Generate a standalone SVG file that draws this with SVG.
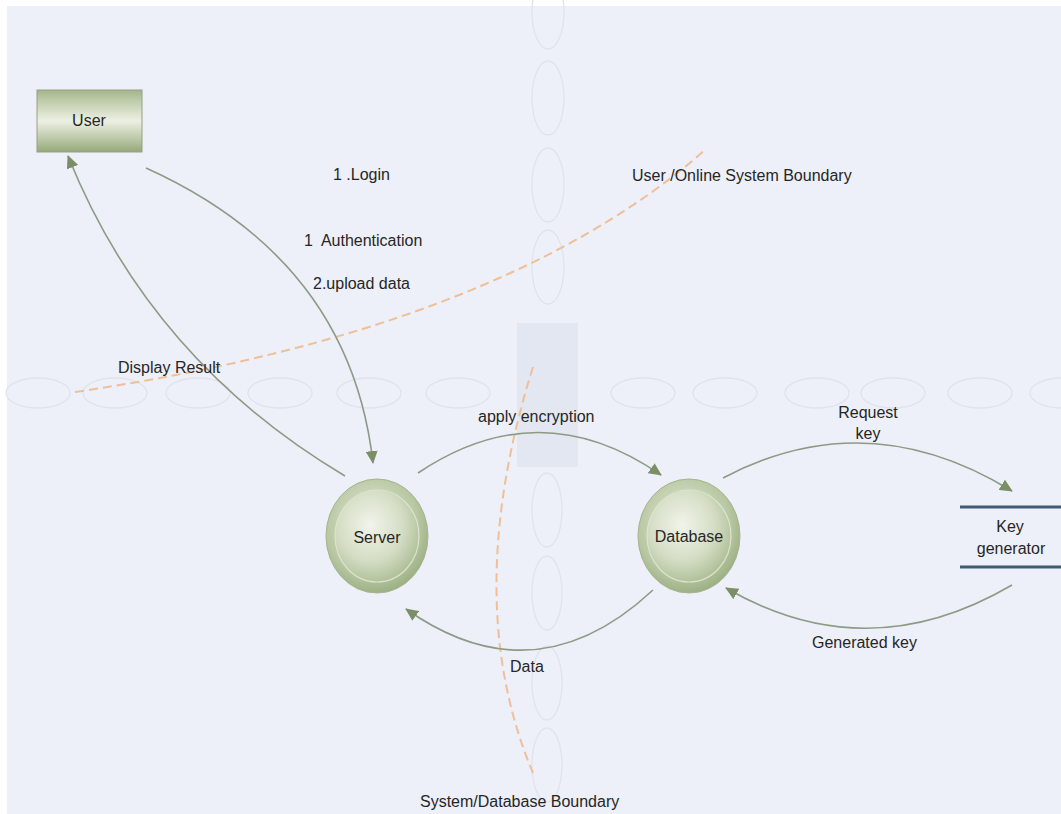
<svg xmlns="http://www.w3.org/2000/svg" width="1061" height="814" viewBox="0 0 1061 814">
  <defs>
    <style>
      .lbl { font-family: "Liberation Sans", Arial, sans-serif; font-size: 16px; fill: #262626; }
      .mid { text-anchor: middle; }
      .guide { fill: none; stroke: #e0e3ec; stroke-width: 1.3; }
      .flow { fill: none; stroke: #8d9a84; stroke-width: 1.6; }
      .boundary { fill: none; stroke: #eebf98; stroke-width: 2; stroke-dasharray: 9 5; }
      .store { stroke: #3f5a75; stroke-width: 3; }
    </style>
    <linearGradient id="entityFill" x1="0" y1="0" x2="0" y2="1">
      <stop offset="0" stop-color="#a3b48a"/>
      <stop offset="0.18" stop-color="#c0ccab"/>
      <stop offset="0.5" stop-color="#ecf0e3"/>
      <stop offset="0.82" stop-color="#b6c3a0"/>
      <stop offset="1" stop-color="#95a87a"/>
    </linearGradient>
    <radialGradient id="processOuter" cx="0.45" cy="0.4" r="0.6">
      <stop offset="0" stop-color="#e6ecda"/>
      <stop offset="0.75" stop-color="#b9c7a3"/>
      <stop offset="1" stop-color="#9db185"/>
    </radialGradient>
    <radialGradient id="processInner" cx="0.42" cy="0.38" r="0.65">
      <stop offset="0" stop-color="#f1f4eb"/>
      <stop offset="0.6" stop-color="#d4ddc4"/>
      <stop offset="1" stop-color="#aebe96"/>
    </radialGradient>
    <marker id="arrow" markerWidth="14" markerHeight="12" refX="12" refY="6" orient="auto" markerUnits="userSpaceOnUse">
      <path d="M0,0 L13,6 L0,12 Z" fill="#7b8e68"/>
    </marker>
  </defs>

  <!-- canvas -->
  <rect x="0" y="0" width="1061" height="814" fill="#ffffff"/>
  <rect x="7" y="6" width="1054" height="808" fill="#edf0f8"/>

  <!-- faint lane guides -->
  <g id="guides">
    <rect x="517" y="323" width="61" height="144" fill="#e3e7f2"/>
    <ellipse class="guide" cx="38" cy="393" rx="32" ry="15"/>
    <ellipse class="guide" cx="115" cy="393" rx="32" ry="15"/>
    <ellipse class="guide" cx="198" cy="393" rx="32" ry="15"/>
    <ellipse class="guide" cx="280" cy="393" rx="32" ry="15"/>
    <ellipse class="guide" cx="369" cy="393" rx="32" ry="15"/>
    <ellipse class="guide" cx="458" cy="393" rx="32" ry="15"/>
    <ellipse class="guide" cx="643" cy="393" rx="32" ry="15"/>
    <ellipse class="guide" cx="725" cy="393" rx="32" ry="15"/>
    <ellipse class="guide" cx="817" cy="393" rx="32" ry="15"/>
    <ellipse class="guide" cx="893" cy="393" rx="32" ry="15"/>
    <ellipse class="guide" cx="980" cy="393" rx="32" ry="15"/>
    <ellipse class="guide" cx="1062" cy="393" rx="32" ry="15"/>
    <ellipse class="guide" cx="548" cy="12" rx="16" ry="37"/>
    <ellipse class="guide" cx="548" cy="98" rx="16" ry="37"/>
    <ellipse class="guide" cx="548" cy="185" rx="16" ry="37"/>
    <ellipse class="guide" cx="548" cy="267" rx="16" ry="37"/>
    <ellipse class="guide" cx="547" cy="510" rx="15" ry="37"/>
    <ellipse class="guide" cx="547" cy="593" rx="15" ry="37"/>
    <ellipse class="guide" cx="547" cy="683" rx="15" ry="37"/>
    <ellipse class="guide" cx="547" cy="765" rx="15" ry="37"/>
  </g>

  <!-- trust boundaries -->
  <g id="boundaries">
    <path class="boundary" d="M75,392 Q500,330 705,150"/>
    <path class="boundary" d="M533,367 Q460,600 533,773"/>
  </g>

  <!-- data flows -->
  <g id="connectors">
    <path class="flow" d="M146,168 Q350,260 373,463" marker-end="url(#arrow)"/>
    <path class="flow" d="M345,476 Q150,360 68,156" marker-end="url(#arrow)"/>
    <path class="flow" d="M418,473 Q540,391 661,475" marker-end="url(#arrow)"/>
    <path class="flow" d="M723,478 Q867,402 1012,491" marker-end="url(#arrow)"/>
    <path class="flow" d="M1012,585 Q867,670 726,588" marker-end="url(#arrow)"/>
    <path class="flow" d="M653,590 Q535,700 406,609" marker-end="url(#arrow)"/>
  </g>

  <!-- external entity -->
  <g id="user">
    <rect x="37" y="90" width="105" height="62" fill="url(#entityFill)" stroke="#93a27f" stroke-width="1"/>
    <text class="lbl mid" x="89" y="126">User</text>
  </g>

  <!-- processes -->
  <g id="server">
    <ellipse cx="377" cy="536" rx="51" ry="57" fill="url(#processOuter)" stroke="#a6b48f" stroke-width="1"/>
    <ellipse cx="377" cy="536" rx="42" ry="46" fill="url(#processInner)" stroke="#dbe3cd" stroke-width="1.2"/>
    <text class="lbl mid" x="377" y="543">Server</text>
  </g>
  <g id="database">
    <ellipse cx="689" cy="536" rx="51" ry="57" fill="url(#processOuter)" stroke="#a6b48f" stroke-width="1"/>
    <ellipse cx="689" cy="536" rx="42" ry="46" fill="url(#processInner)" stroke="#dbe3cd" stroke-width="1.2"/>
    <text class="lbl mid" x="689" y="542">Database</text>
  </g>

  <!-- data store -->
  <g id="key-generator">
    <line class="store" x1="960" y1="507" x2="1061" y2="507"/>
    <line class="store" x1="960" y1="567" x2="1061" y2="567"/>
    <text class="lbl mid" x="1010" y="532">Key</text>
    <text class="lbl mid" x="1011" y="554">generator</text>
  </g>

  <!-- flow and boundary labels -->
  <g id="labels">
    <text class="lbl" x="333" y="180">1 .Login</text>
    <text class="lbl" x="304" y="246" xml:space="preserve">1  Authentication</text>
    <text class="lbl" x="313" y="289">2.upload data</text>
    <text class="lbl" x="632" y="181">User /Online System Boundary</text>
    <text class="lbl" x="118" y="373">Display Result</text>
    <text class="lbl" x="478" y="422">apply encryption</text>
    <text class="lbl mid" x="868" y="418">Request</text>
    <text class="lbl mid" x="868" y="439">key</text>
    <text class="lbl" x="812" y="648">Generated key</text>
    <text class="lbl" x="510" y="672">Data</text>
    <text class="lbl" x="420" y="807">System/Database Boundary</text>
  </g>
</svg>
